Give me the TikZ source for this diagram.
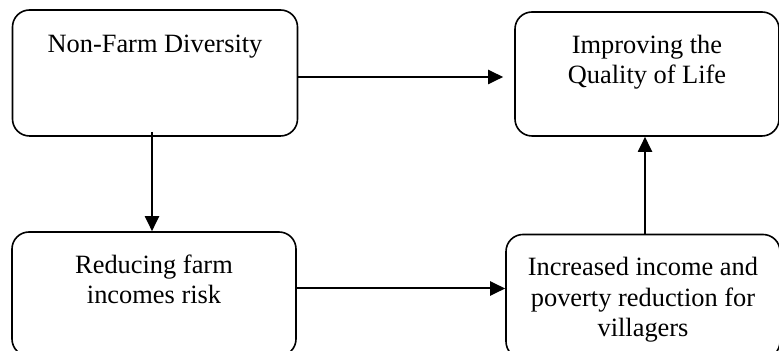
\documentclass[tikz,border=0pt]{standalone}
\usepackage{fontspec}
\setmainfont{Liberation Serif}
\usepackage{tikz}
\usetikzlibrary{arrows.meta}
\usetikzlibrary{positioning}
\tikzset{
    stage/.style={
           rectangle,
           rounded corners=8.5pt,
           draw=black, line width=0.8pt,
           inner sep=0pt,
           minimum height=62pt,
           font=\fontsize{13.2}{15.25}\selectfont,
           },
}
\newcommand{\boxlines}[2]{\parbox[c][62pt][t]{#1}{\centering\vspace{10pt}\strut#2}}

\begin{document}
\begin{tikzpicture}[->,>={Triangle[length=7.5pt,width=7pt]},line width=1pt]
 \useasboundingbox (0,0) rectangle (389.5pt,175.5pt);

 \node[stage,minimum width=142.5pt,minimum height=63pt] at (77.5pt,139pt) (NFD)
 {\boxlines{132pt}{Non-Farm Diversity}
  };

 \node[stage,
 below of=NFD,
 node distance=110.5pt,
 xshift=-0.5pt,
 minimum width=142pt](RFI)
 {\boxlines{132pt}{Reducing farm\\ incomes risk}
 };

 \node[stage,
  right of=NFD,
  node distance=246pt,
  yshift=-0.5pt,
  minimum width=132pt] (QoL)
 {\boxlines{124pt}{Improving the\\ Quality of Life}
 };

 \node[stage,
  below of=QoL,
  node distance=111.25pt,
  xshift=-2pt,
  minimum width=137pt] (IIP)
 {\boxlines{130pt}{Increased income and\\ poverty reduction for\\ villagers}
 };

 \path ([yshift=-2pt]NFD.east) edge[shorten >=5.5pt] ([yshift=-2pt]NFD.east -| QoL.west)
       ([xshift=-1.5pt,yshift=2.5pt]NFD.south) edge ([xshift=-1.5pt]NFD.south |- RFI.north)
       ([yshift=2.75pt]RFI.east) edge ([yshift=2.75pt]RFI.east -| IIP.west)
       ([xshift=1pt]IIP.north) edge ([xshift=1pt]IIP.north |- QoL.south)
;

\end{tikzpicture}
\end{document}
